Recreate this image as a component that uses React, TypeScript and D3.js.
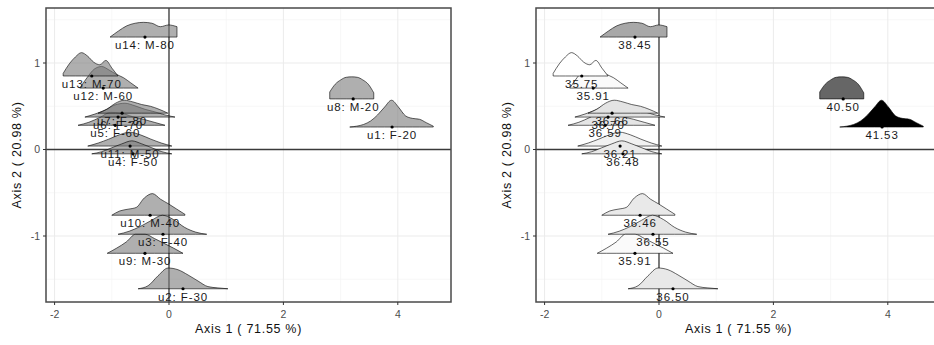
import React from "react";
import * as d3 from "d3";

// individuals (u1..u14) and their map coordinates
const ids = ["u1", "u2", "u3", "u4", "u5", "u6", "u7", "u8", "u9", "u10", "u11", "u12", "u13", "u14"];
const labels = [
  "u1: F-20", "u2: F-30", "u3: F-40", "u4: F-50", "u5: F-60", "u6: F-70", "u7: F-80",
  "u8: M-20", "u9: M-30", "u10: M-40", "u11: M-50", "u12: M-60", "u13: M-70", "u14: M-80",
];
const coordX = [3.9, 0.245, -0.105, -0.63, -0.94, -0.89, -0.82, 3.22, -0.42, -0.33, -0.68, -1.15, -1.35, -0.42];
const coordY = [0.26, -1.61, -0.98, -0.05, 0.28, 0.375, 0.42, 0.585, -1.2, -0.76, 0.04, 0.71, 0.85, 1.3];
const values = [41.53, 36.5, 36.55, 36.48, 36.59, 36.7, 36.66, 40.5, 35.91, 36.46, 36.21, 35.91, 35.75, 38.45];

// density profile of each individual along axis 1
const densMin = [3.16, -0.54, -0.89, -1.35, -1.59, -1.47, -1.24, 2.81, -1.08, -1.0, -1.42, -1.56, -1.85, -1.03];
const densMax = [4.62, 1.03, 0.66, 0.05, -0.07, 0.105, -0.02, 3.58, 0.245, 0.28, 0.05, -0.54, -0.89, 0.14];
const densities = [
  [0, 0.01, 0.03, 0.07, 0.14, 0.23, 0.31, 0.23, 0.13, 0.1, 0.09, 0.05, 0.01],
  [0, 0.035, 0.15, 0.24, 0.22, 0.16, 0.09, 0.025, 0.01, 0],
  [0, 0.035, 0.09, 0.16, 0.22, 0.17, 0.08, 0.025, 0],
  [0, 0.025, 0.07, 0.115, 0.15, 0.115, 0.07, 0.025, 0],
  [0, 0.035, 0.09, 0.15, 0.14, 0.1, 0.07, 0.035, 0],
  [0, 0.035, 0.08, 0.14, 0.16, 0.13, 0.09, 0.06, 0.025, 0],
  [0, 0.045, 0.115, 0.15, 0.13, 0.1, 0.08, 0.045, 0],
  [0.08, 0.17, 0.22, 0.25, 0.255, 0.25, 0.22, 0.17, 0.07],
  [0, 0.06, 0.13, 0.22, 0.22, 0.17, 0.115, 0.06, 0],
  [0, 0.05, 0.07, 0.09, 0.2, 0.25, 0.185, 0.13, 0.07, 0.01],
  [0, 0.035, 0.08, 0.13, 0.16, 0.13, 0.08, 0.035, 0],
  [0, 0.12, 0.22, 0.25, 0.21, 0.16, 0.12, 0.06, 0],
  [0.03, 0.14, 0.22, 0.27, 0.23, 0.16, 0.13, 0.18, 0.09, 0],
  [0, 0.07, 0.13, 0.16, 0.17, 0.16, 0.12, 0.14, 0.12],
];

const xTicks = [-2, 0, 2, 4];
const xMinor = [-1, 1, 3];
const yTicks = [-1, 0, 1];
const yMinor = [-1.5, -0.5, 0.5, 1.5];

const fillStops = [35.75, 36.5, 38.45, 40.5, 41.53];
const fillColors = ["#ffffff", "#e8e8e8", "#a8a8a8", "#666666", "#000000"];

const W = 934;
const H = 345;
const TOP = 8;
const BOTTOM = 302;
const PW = 405;
const FONT = "'Liberation Sans', Arial, sans-serif";

const Panel: React.FC<{ left: number; mode: "label" | "value"; idx: number }> = ({ left, mode, idx }) => {
  const x = d3.scaleLinear().domain([-2.15, 4.93]).range([left, left + PW]);
  const y = d3.scaleLinear().domain([-1.763, 1.636]).range([BOTTOM, TOP]);
  const fill = d3.scaleLinear<string>().domain(fillStops).range(fillColors);

  // ggplot draws groups in alphabetical order
  const order = d3.range(ids.length).sort((a, b) => d3.ascending(ids[a], ids[b]));
  const clipId = `clip-${idx}`;

  const shape = (i: number) => {
    const dens = densities[i];
    const pos = d3.scaleLinear().domain([0, dens.length - 1]).range([densMin[i], densMax[i]]);
    const area = d3
      .area<number>()
      .x((_, j) => x(pos(j)))
      .y0(y(coordY[i]))
      .y1((d) => y(coordY[i] + d))
      .curve(d3.curveMonotoneX);
    return area(dens) || "";
  };

  return (
    <g>
      <defs>
        <clipPath id={clipId}>
          <rect x={left} y={TOP} width={PW} height={BOTTOM - TOP} />
        </clipPath>
      </defs>
      {/* grid */}
      {xMinor.map((t) => (
        <line key={"xm" + t} x1={x(t)} x2={x(t)} y1={TOP} y2={BOTTOM} stroke="#f3f3f3" strokeWidth={0.7} />
      ))}
      {yMinor.map((t) => (
        <line key={"ym" + t} x1={left} x2={left + PW} y1={y(t)} y2={y(t)} stroke="#f3f3f3" strokeWidth={0.7} />
      ))}
      {xTicks.map((t) => (
        <line key={"xg" + t} x1={x(t)} x2={x(t)} y1={TOP} y2={BOTTOM} stroke="#ebebeb" strokeWidth={1} />
      ))}
      {yTicks.map((t) => (
        <line key={"yg" + t} x1={left} x2={left + PW} y1={y(t)} y2={y(t)} stroke="#ebebeb" strokeWidth={1} />
      ))}
      {/* zero lines */}
      <line x1={x(0)} x2={x(0)} y1={TOP} y2={BOTTOM} stroke="#3a3a3a" strokeWidth={1.3} />
      <line x1={left} x2={left + PW} y1={y(0)} y2={y(0)} stroke="#3a3a3a" strokeWidth={1.3} />

      <g clipPath={`url(#${clipId})`}>
        {order.map((i) => (
          <path
            key={ids[i]}
            d={shape(i)}
            fill={mode === "label" ? "#7a7a7a" : fill(values[i])}
            fillOpacity={mode === "label" ? 0.6 : 1}
            stroke="#000"
            strokeWidth={0.6}
          />
        ))}
        {order.map((i) => (
          <circle key={"p" + ids[i]} cx={x(coordX[i])} cy={y(coordY[i])} r={1.6} fill="#000" />
        ))}
        {order.map((i) => (
          <text
            key={"t" + ids[i]}
            x={x(coordX[i])}
            y={y(coordY[i]) + 12}
            textAnchor="middle"
            fontSize={11.5}
            letterSpacing={0.9}
            fontFamily={FONT}
            fill="#1a1a1a"
          >
            {mode === "label" ? labels[i] : values[i].toFixed(2)}
          </text>
        ))}
      </g>

      {/* border */}
      <rect x={left} y={TOP} width={PW} height={BOTTOM - TOP} fill="none" stroke="#4a4a4a" strokeWidth={1.5} />

      {/* axes */}
      {xTicks.map((t) => (
        <g key={"xt" + t}>
          <line x1={x(t)} x2={x(t)} y1={BOTTOM} y2={BOTTOM + 3} stroke="#333" strokeWidth={1} />
          <text x={x(t)} y={BOTTOM + 16} textAnchor="middle" fontSize={10.5} fontFamily={FONT} fill="#4d4d4d">
            {t}
          </text>
        </g>
      ))}
      {yTicks.map((t) => (
        <g key={"yt" + t}>
          <line x1={left - 3} x2={left} y1={y(t)} y2={y(t)} stroke="#333" strokeWidth={1} />
          <text x={left - 6} y={y(t)} dy="0.35em" textAnchor="end" fontSize={10.5} fontFamily={FONT} fill="#4d4d4d">
            {t}
          </text>
        </g>
      ))}
      <text
        x={left + PW / 2}
        y={333}
        textAnchor="middle"
        fontSize={12.5}
        letterSpacing={0.7}
        fontFamily={FONT}
        fill="#111"
      >
        Axis 1 ( 71.55 %)
      </text>
      <text
        transform={`translate(${left - 25},${(TOP + BOTTOM) / 2}) rotate(-90)`}
        textAnchor="middle"
        fontSize={12.5}
        letterSpacing={0.7}
        fontFamily={FONT}
        fill="#111"
      >
        Axis 2 ( 20.98 %)
      </text>
    </g>
  );
};

const App: React.FC = () => {
  return (
    <svg
      width={W}
      height={H}
      style={{ position: "absolute", left: 0, top: 0, background: "#fff" }}
    >
      <rect width={W} height={H} fill="#fff" />
      <Panel left={46} mode="label" idx={0} />
      <Panel left={536} mode="value" idx={1} />
    </svg>
  );
};

export default App;
